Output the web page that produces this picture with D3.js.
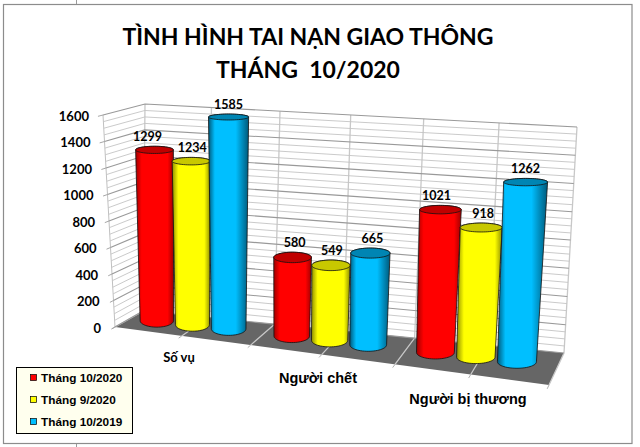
<!DOCTYPE html>
<html>
<head>
<meta charset="utf-8">
<title>Tai nan giao thong</title>
<script src="https://d3js.org/d3.v7.min.js"></script>
<style>
    html, body { margin: 0; padding: 0; background: #fff; }
    svg { display: block; }
</style>
</head>
<body>
<svg id="chart" width="640" height="447"></svg>
<script>
const titleLines = ["TÌNH HÌNH TAI NẠN GIAO THÔNG", "THÁNG  10/2020"];
const categories = ["Số vụ", "Người chết", "Người bị thương"];
const seriesNames = ["Tháng 10/2020", "Tháng 9/2020", "Tháng 10/2019"];
const thang102020 = [1299, 580, 1021];
const thang92020 = [1234, 549, 918];
const thang102019 = [1585, 665, 1262];
const yTicks = [0, 200, 400, 600, 800, 1000, 1200, 1400, 1600];
const seriesValues = [thang102020, thang92020, thang102019];

const colors = [
    {light: "#ff0000", dark: "#a00000", top: "#c00000", stopEnd: "84%"},
    {light: "#ffff00", dark: "#8f8f00", top: "#c8c800", stopEnd: "84%"},
    {light: "#00bfff", dark: "#00597a", top: "#0085b3", stopEnd: "68%"}
];

const svg = d3.select("#chart");
const fontSans = "Lato, 'Open Sans', sans-serif";
const fontArial = "'Liberation Sans', Arial, sans-serif";

// corners of the 3D box in pixels
const box = {
    bottom: {fl: [115, 327], bl: [143, 311], fr: [549, 385], br: [564, 353]},
    top: {fl: [103, 115], bl: [145, 104], fr: [561, 150], br: [577, 127]}
};

const yScale = d3.scaleLinear().domain([0, 1600]).range([0, 1]);
const xScale = d3.scaleLinear().domain([0, categories.length]).range([0, 1]);

// slight perspective along the x direction
function warp(t) {
    const k = 1.1;
    return t / (t + k * (1 - t));
}

function lerp(a, b, t) {
    return [a[0] + (b[0] - a[0]) * t, a[1] + (b[1] - a[1]) * t];
}

function floorPoint(level, u, v) {
    const t = warp(u);
    return lerp(lerp(level.fl, level.fr, t), lerp(level.bl, level.br, t), v);
}

// u = along categories (0-1), v = depth (0 front, 1 back), w = height (0-1)
function project(u, v, w) {
    return lerp(floorPoint(box.bottom, u, v), floorPoint(box.top, u, v), w);
}

const line = d3.line();

// frame
svg.append("rect")
    .attr("x", 3.5).attr("y", 4.5)
    .attr("width", 628.5).attr("height", 439)
    .attr("fill", "#fff")
    .attr("stroke", "#8c8c8c")
    .attr("stroke-width", 1.2);
svg.append("path").attr("d", "M76.5,0V4M76.5,444V447").attr("stroke", "#9a9a9a");

// title
svg.selectAll("text.title").data(titleLines)
    .join("text")
    .attr("class", "title")
    .attr("x", 308)
    .attr("y", (d, i) => 45 + i * 33)
    .attr("text-anchor", "middle")
    .attr("font-family", fontSans)
    .attr("font-weight", 700)
    .attr("font-size", 23)
    .style("white-space", "pre")
    .attr("fill", "#000")
    .text(d => d);

// walls and floor
const walls = svg.append("g");
walls.append("path")
    .attr("d", line([project(0, 0, 0), project(1, 0, 0), project(1, 1, 0), project(0, 1, 0)]) + "Z")
    .attr("fill", "#666666");

// vertical grid, every half category
d3.range(0, 6.5, 1).forEach(i => {
    const u = xScale(i / 2);
    walls.append("path")
        .attr("d", line([project(u, 0, 0), project(u, 1, 0), project(u, 1, 1)]))
        .attr("fill", "none")
        .attr("stroke", "#c8c8c8")
        .attr("stroke-width", 1.3);
    walls.append("path")
        .attr("d", line([project(u, 0, 0), project(u, -0.12, 0)]))
        .attr("stroke", "#b0b0b0");
});
walls.append("path")
    .attr("d", line([project(0, 0, 0), project(0, 0, 1)]))
    .attr("stroke", "#c0c0c0");

// horizontal grid, minor every 50 and major every 200
d3.range(0, 1601, 50).forEach(val => {
    const major = val % 200 === 0;
    const w = yScale(val);
    walls.append("path")
        .attr("d", line([project(0, 0, w), project(0, 1, w), project(1, 1, w)]))
        .attr("fill", "none")
        .attr("stroke", major ? "#999999" : "#c4c4c4")
        .attr("stroke-width", major ? 1.1 : 0.9);
});

// y axis
svg.selectAll("text.ytick").data(yTicks)
    .join("text")
    .attr("class", "ytick")
    .attr("x", d => project(0, 0, yScale(d))[0] - 14)
    .attr("y", d => project(0, 0, yScale(d))[1] + 5.5)
    .attr("text-anchor", "end")
    .attr("font-family", fontSans)
    .attr("font-weight", 700)
    .attr("font-size", 13)
    .text(d => d);
yTicks.forEach(d => {
    const w = yScale(d);
    walls.append("path")
        .attr("d", line([project(0, 0, w), project(0, -0.12, w)]))
        .attr("stroke", "#a6a6a6");
});

// gradients for cylinders
const defs = svg.append("defs");
colors.forEach((c, i) => {
    const g = defs.append("linearGradient").attr("id", "cyl" + i);
    g.append("stop").attr("offset", "0%").attr("stop-color", c.dark);
    g.append("stop").attr("offset", "16%").attr("stop-color", c.light);
    g.append("stop").attr("offset", c.stopEnd).attr("stop-color", c.light);
    g.append("stop").attr("offset", "100%").attr("stop-color", c.dark);
});

// bars
const barDepth = 0.58;
const barOffset = [-0.09, 0, 0.09];
const barShift = -0.011;
const angles = d3.range(0, 360, 6).map(a => a * Math.PI / 180);
// the labels that were dragged off centre in the original
const labelNudge = [[-7, 1, 0], [2, 1, 2], [-4, 2, 0]];

// flat ellipse in screen space, wider to the right and near the top
function ring(cu, w) {
    const c = project(cu, barDepth, w);
    const rx = 16.5 * (1 + 0.2 * cu) * (1 + 0.16 * w);
    const ry = 6.5 * (1 - 0.55 * w);
    return angles.map(a => [c[0] + rx * Math.cos(a), c[1] + ry * Math.sin(a)]);
}

const bars = svg.append("g");
categories.forEach((cat, i) => {
    seriesValues.forEach((vals, s) => {
        const cu = xScale(i + 0.5) + barOffset[s] + barShift;
        const w = yScale(vals[i]);
        const topRing = ring(cu, w);
        const botRing = ring(cu, 0);
        const outline = d3.polygonHull(topRing.concat(botRing));
        bars.append("path")
            .attr("d", line(outline) + "Z")
            .attr("fill", `url(#cyl${s})`)
            .attr("stroke", "#111")
            .attr("stroke-width", 0.8);
        bars.append("path")
            .attr("d", line(topRing) + "Z")
            .attr("fill", colors[s].top)
            .attr("stroke", "#111")
            .attr("stroke-width", 0.8);
        const labelPos = project(cu, barDepth, w);
        const ringTop = d3.min(topRing, d => d[1]);
        bars.append("text")
            .attr("x", labelPos[0] + labelNudge[i][s])
            .attr("y", ringTop - 5)
            .attr("text-anchor", "middle")
            .attr("font-family", fontSans)
            .attr("font-weight", 700)
            .attr("font-size", 12.5)
            .text(vals[i]);
    });
});

// category labels
const catLabelPos = [[179, 362, 13, fontSans], [318, 383, 14.5, fontArial], [468, 404, 14.5, fontArial]];
svg.selectAll("text.cat").data(categories)
    .join("text")
    .attr("class", "cat")
    .attr("x", (d, i) => catLabelPos[i][0])
    .attr("y", (d, i) => catLabelPos[i][1])
    .attr("text-anchor", "middle")
    .attr("font-family", (d, i) => catLabelPos[i][3])
    .attr("font-weight", 700)
    .attr("font-size", (d, i) => catLabelPos[i][2])
    .text(d => d);

// legend
const legend = svg.append("g");
legend.append("rect")
    .attr("x", 16.5).attr("y", 367.5)
    .attr("width", 116).attr("height", 66)
    .attr("fill", "#ffffee")
    .attr("stroke", "#000");
seriesNames.forEach((name, i) => {
    const y = 378 + i * 22;
    legend.append("rect")
        .attr("x", 30.5).attr("y", y - 3.5)
        .attr("width", 6).attr("height", 6)
        .attr("fill", colors[i].light)
        .attr("stroke", "#000")
        .attr("stroke-width", 0.7);
    legend.append("text")
        .attr("x", 41).attr("y", y + 4)
        .attr("font-family", fontArial)
        .attr("font-weight", 700)
        .attr("font-size", 11.8)
        .text(name);
});
</script>
</body>
</html>
